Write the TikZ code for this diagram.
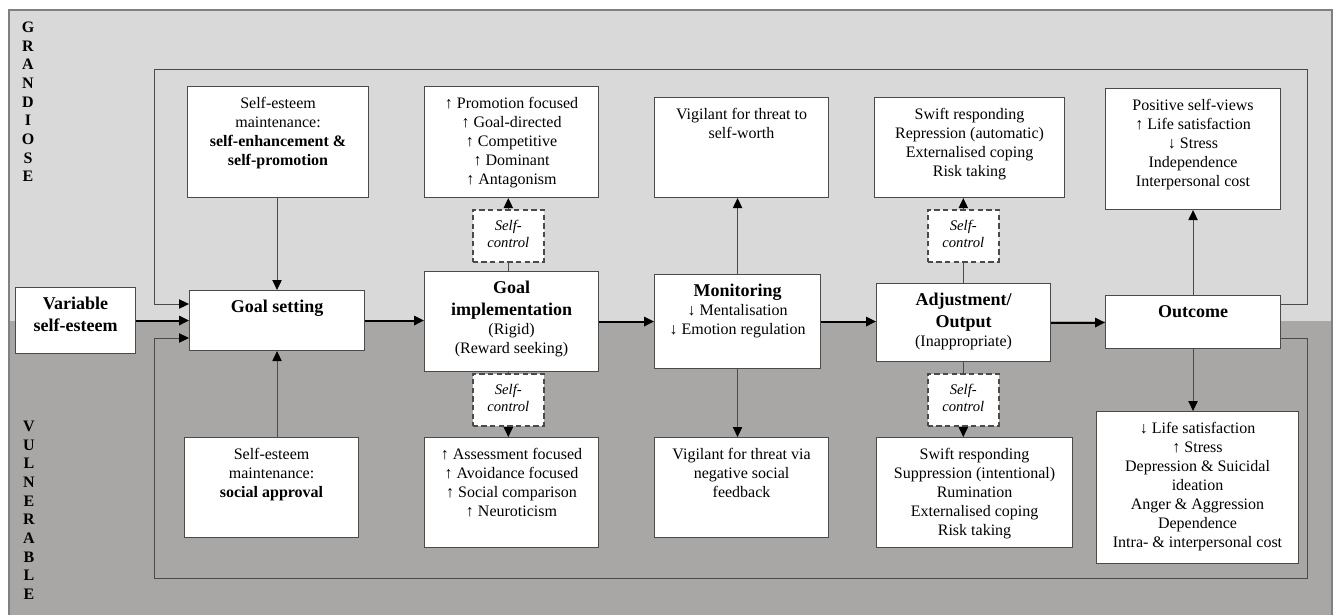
\documentclass[tikz,border=0pt]{standalone}
\usepackage{fontspec}
\setmainfont{Liberation Serif}
\usetikzlibrary{arrows.meta}

\definecolor{topgray}{HTML}{D9D9D9}
\definecolor{lowgray}{HTML}{A9A6A6}
\definecolor{linegray}{HTML}{4A4A4A}

\newcommand{\stage}[1]{{\fontsize{13.5}{16}\selectfont\bfseries #1}}

\tikzset{
  panel/.style={draw=linegray, line width=0.8pt, fill=white, inner sep=0pt,
    anchor=north west, text height=16.5pt},
  selfctrl/.style={draw=linegray, line width=1.2pt, dash pattern=on 4pt off 2.5pt,
    fill=white, inner sep=0pt, anchor=north west, minimum width=53.25pt,
    minimum height=39pt, font=\fontsize{11}{12.5}\selectfont\itshape},
  flow/.style={line width=1.5pt, -{Triangle[length=7.5pt,width=7pt]}},
  link/.style={draw=linegray, line width=0.75pt, -{Triangle[length=7.5pt,width=7pt,color=black]}},
  tie/.style={draw=linegray, line width=0.75pt},
  letters/.style={font=\fontsize{12}{14}\selectfont\bfseries, inner sep=0pt, anchor=base}
}

\begin{document}
\begin{tikzpicture}[x=0.75pt, y=-0.75pt, font=\fontsize{12}{14.2}\selectfont]
    \useasboundingbox (0,0) rectangle (1338,615);

    % the two bands
    \fill[topgray] (9,10) rectangle (1332,321);
    \fill[lowgray] (9,321) rectangle (1332,615);
    \draw[gray, line width=0.8pt] (9,615) -- (9,10) -- (1332,10) -- (1332,615);

    \node[letters] (grandiose) at (28,32.5) {\begin{tabular}[t]{@{}c@{}}G\\R\\A\\N\\D\\I\\O\\S\\E\end{tabular}};
    \node[letters] (vulnerable) at (29,431.5) {\begin{tabular}[t]{@{}c@{}}V\\U\\L\\N\\E\\R\\A\\B\\L\\E\end{tabular}};

%%%%%%%%%%%%%%%%%%%%%%%%%%%%%%%%%%%%%%%%%%
    % middle row
    \node[panel, minimum width=90pt, text depth=33pt] (variable) at (15,287) {
        \begin{tabular}[t]{c}
            \stage{Variable}\\[2pt] \stage{self-esteem}
        \end{tabular}};
    \node[panel, minimum width=131.25pt, text depth=28.5pt] (setting) at (189,290) {
        \begin{tabular}[t]{c}
            \stage{Goal setting}
        \end{tabular}};
    \node[panel, minimum width=130.5pt, text depth=58.5pt] (implem) at (424,271) {
        \begin{tabular}[t]{c}
            \stage{Goal}\\[2pt] \stage{implementation}\\ (Rigid)\\ (Reward seeking)
        \end{tabular}};
    \node[panel, minimum width=124.5pt, text depth=54pt] (monitor) at (654,274) {
        \begin{tabular}[t]{c}
            \stage{Monitoring}\\ ↓ Mentalisation\\ ↓ Emotion regulation
        \end{tabular}};
    \node[panel, minimum width=130.5pt, text depth=42pt] (adjust) at (876,283) {
        \begin{tabular}[t]{c}
            \stage{Adjustment/}\\[2pt] \stage{Output}\\ (Inappropriate)
        \end{tabular}};
    \node[panel, minimum width=131.25pt, text depth=23.25pt] (outcome) at (1105,295) {
        \begin{tabular}[t]{c}
            \stage{Outcome}
        \end{tabular}};

%%%%%%%%%%%%%%%%%%%%%%%%%%%%%%%%%%%%%%%%%%
    % grandiose row
    \node[panel, minimum width=135.75pt, text depth=66.75pt] (maintop) at (187,86) {
        \begin{tabular}[t]{c}
            Self-esteem\\ maintenance:\\ \textbf{self-enhancement \&}\\ \textbf{self-promotion}
        \end{tabular}};
    \node[panel, minimum width=130.5pt, text depth=66.75pt] (promo) at (424,86) {
        \begin{tabular}[t]{c}
            ↑ Promotion focused\\ ↑ Goal-directed\\ ↑ Competitive\\ ↑ Dominant\\ ↑ Antagonism
        \end{tabular}};
    \node[panel, minimum width=130.5pt, text depth=58.5pt] (vigtop) at (654,97) {
        \begin{tabular}[t]{c}
            Vigilant for threat to\\ self-worth
        \end{tabular}};
    \node[panel, minimum width=142.5pt, text depth=58.5pt] (resptop) at (874,97) {
        \begin{tabular}[t]{c}
            Swift responding\\ Repression (automatic)\\ Externalised coping\\ Risk taking
        \end{tabular}};
    \node[panel, minimum width=131.25pt, text depth=74.25pt] (outtop) at (1105,88) {
        \begin{tabular}[t]{c}
            Positive self-views\\ ↑ Life satisfaction\\ ↓ Stress\\ Independence\\ Interpersonal cost
        \end{tabular}};

%%%%%%%%%%%%%%%%%%%%%%%%%%%%%%%%%%%%%%%%%%
    % vulnerable row
    \node[panel, minimum width=130.5pt, text depth=58.5pt] (mainbot) at (184,437) {
        \begin{tabular}[t]{c}
            Self-esteem\\ maintenance:\\ \textbf{social approval}
        \end{tabular}};
    \node[panel, minimum width=130.5pt, text depth=66pt] (assess) at (424,437) {
        \begin{tabular}[t]{c}
            ↑ Assessment focused\\ ↑ Avoidance focused\\ ↑ Social comparison\\ ↑ Neuroticism
        \end{tabular}};
    \node[panel, minimum width=130.5pt, text depth=58.5pt] (vigbot) at (654,437) {
        \begin{tabular}[t]{c}
            Vigilant for threat via\\ negative social\\ feedback
        \end{tabular}};
    \node[panel, minimum width=147pt, text depth=66pt] (respbot) at (876,437) {
        \begin{tabular}[t]{c}
            Swift responding\\ Suppression (intentional)\\ Rumination\\ Externalised coping\\ Risk taking
        \end{tabular}};
    \node[panel, minimum width=151.5pt, text depth=97.5pt] (outbot) at (1096,411) {
        \begin{tabular}[t]{c}
            ↓ Life satisfaction\\ ↑ Stress\\ Depression \& Suicidal\\ ideation\\ Anger \& Aggression\\ Dependence\\ Intra- \& interpersonal cost
        \end{tabular}};

    % self-control gates
    \node[selfctrl] (gatetop1) at (472,209) {\begin{tabular}{c}Self-\\ control\end{tabular}};
    \node[selfctrl] (gatebot1) at (472,373) {\begin{tabular}{c}Self-\\ control\end{tabular}};
    \node[selfctrl] (gatetop2) at (927,209) {\begin{tabular}{c}Self-\\ control\end{tabular}};
    \node[selfctrl] (gatebot2) at (927,373) {\begin{tabular}{c}Self-\\ control\end{tabular}};

%%%%%%%%%%%%%%%%%%%%%%%%%%%%%%%%%%%%%%%%%%
    % main flow
    \draw[flow] (variable.east) -- (variable.east -| setting.west);
    \draw[flow] (setting.east) -- (setting.east -| implem.west);
    \draw[flow] (implem.east) -- (implem.east -| monitor.west);
    \draw[flow] (monitor.east) -- (monitor.east -| adjust.west);
    \draw[flow] (adjust.east) -- (adjust.east -| outcome.west);

    % up and down
    \draw[link] (setting.north |- maintop.south) -- (setting.north);
    \draw[link] (setting.south |- mainbot.north) -- (setting.south);
    \draw[tie] (gatetop1.south) -- (gatetop1.south |- implem.north);
    \draw[link] (gatetop1.north) -- (gatetop1.north |- promo.south);
    \draw[tie] (gatebot1.north) -- (gatebot1.north |- implem.south);
    \draw[link] (gatebot1.south) -- (gatebot1.south |- assess.north);
    \draw[link] (monitor.north) -- (monitor.north |- vigtop.south);
    \draw[link] (monitor.south) -- (monitor.south |- vigbot.north);
    \draw[tie] (gatetop2.south) -- (gatetop2.south |- adjust.north);
    \draw[link] (gatetop2.north) -- (gatetop2.north |- resptop.south);
    \draw[tie] (gatebot2.north) -- (gatebot2.north |- adjust.south);
    \draw[link] (gatebot2.south) -- (gatebot2.south |- respbot.north);
    \draw[link] (outcome.north) -- (outcome.north |- outtop.south);
    \draw[link] (outcome.south) -- (outcome.south |- outbot.north);

    % feedback loops
    \coordinate (hilevel) at (0,304);
    \coordinate (lolevel) at (0,338);
    \coordinate (hiright) at (1307,69);
    \coordinate (hileft) at (154,69);
    \coordinate (loright) at (1307,578);
    \coordinate (loleft) at (154,578);
    \draw[link] (outcome.east |- hilevel) -| (hiright) -- (hileft) |- (setting.west |- hilevel);
    \draw[link] (outcome.east |- lolevel) -| (loright) -- (loleft) |- (setting.west |- lolevel);
\end{tikzpicture}
\end{document}
